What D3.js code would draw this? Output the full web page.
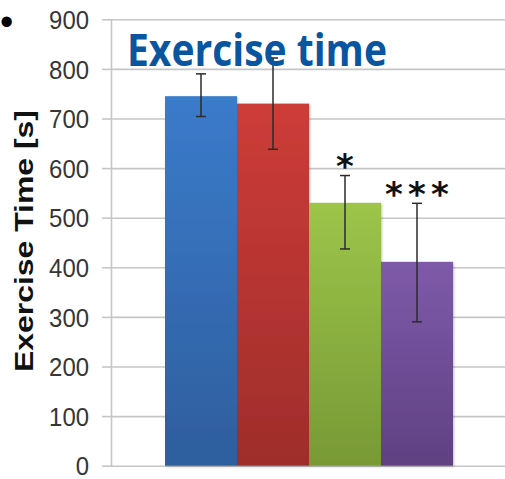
<!DOCTYPE html>
<html>
<head>
<meta charset="utf-8">
<script src="https://cdn.jsdelivr.net/npm/d3@7"></script>
<style>
  html, body { margin: 0; padding: 0; background: #fff; }
  svg { display: block; }
</style>
</head>
<body>
<svg id="chart" width="505" height="479"></svg>
<script>
// Exercise time per group (seconds), mean and error-bar bounds
const groups = ["Group A", "Group B", "Group C", "Group D"];
const meanTime = [745, 730, 530, 411];
const errLow = [704, 638, 437, 290];
const errHigh = [790, 822, 585, 529];
const significance = ["", "", "*", "***"];
const yTicks = [0, 100, 200, 300, 400, 500, 600, 700, 800, 900];
const colorsTop = ["#3b7bcb", "#cd3c38", "#9cc54a", "#7e5aa9"];
const colorsBottom = ["#2e5e9d", "#9e2d2b", "#789935", "#5f4182"];

const svg = d3.select("#chart");
const W = 505;
const axisX = 111;

const y = d3.scaleLinear().domain([0, 900]).range([465.7, 19.3]);
const x = d3.scaleBand().domain(groups).range([165, 453]).padding(0);

// gradients for bars
const defs = svg.append("defs");
groups.forEach((g, i) => {
  const lg = defs.append("linearGradient")
    .attr("id", "grad" + i).attr("x1", 0).attr("y1", 0).attr("x2", 0).attr("y2", 1);
  lg.append("stop").attr("offset", "0%").attr("stop-color", colorsTop[i]);
  lg.append("stop").attr("offset", "100%").attr("stop-color", colorsBottom[i]);
});
const shadow = defs.append("filter").attr("id", "shadow")
  .attr("x", "-10%").attr("y", "-10%").attr("width", "120%").attr("height", "120%");
shadow.append("feDropShadow").attr("dx", 1).attr("dy", 1).attr("stdDeviation", 1.2)
  .attr("flood-color", "#000").attr("flood-opacity", 0.25);

// horizontal gridlines
svg.append("g")
  .attr("transform", `translate(${axisX},0)`)
  .call(d3.axisLeft(y).tickValues(yTicks).tickSize(-(W - axisX)).tickFormat(""))
  .call(g => g.select(".domain").remove())
  .call(g => g.selectAll(".tick line").attr("stroke", "#c6c6c6").attr("stroke-width", 1.6));

// y axis with tick labels
const yAxis = svg.append("g")
  .attr("transform", `translate(${axisX},0)`)
  .call(d3.axisLeft(y).tickValues(yTicks).tickSize(9).tickPadding(13).tickSizeOuter(0))
  .call(g => g.select(".domain").attr("stroke", "#c6c6c6").attr("stroke-width", 1.6))
  .call(g => g.selectAll(".tick line").attr("stroke", "#c6c6c6").attr("stroke-width", 1.6));
yAxis.selectAll(".tick text")
  .attr("fill", "#363636")
  .style("font-family", "'Liberation Sans', Arial, sans-serif")
  .style("font-size", "26px")
  .attr("dy", "0.35em")
  .each(function () {
    const len = this.getComputedTextLength();
    d3.select(this).attr("textLength", len * 0.92).attr("lengthAdjust", "spacingAndGlyphs");
  });

// bars
svg.append("g").selectAll("rect")
  .data(groups)
  .join("rect")
  .attr("x", d => x(d))
  .attr("y", (d, i) => y(meanTime[i]))
  .attr("width", x.bandwidth())
  .attr("height", (d, i) => y(0) - y(meanTime[i]))
  .attr("fill", (d, i) => `url(#grad${i})`)
  .attr("filter", "url(#shadow)");

// error bars
const eb = svg.append("g").attr("stroke", "#2b2b2b").attr("stroke-width", 1.5);
groups.forEach((g, i) => {
  const cx = x(g) + x.bandwidth() / 2;
  eb.append("line").attr("x1", cx).attr("x2", cx).attr("y1", y(errHigh[i])).attr("y2", y(errLow[i]));
  eb.append("line").attr("x1", cx - 5).attr("x2", cx + 5).attr("y1", y(errHigh[i])).attr("y2", y(errHigh[i]));
  eb.append("line").attr("x1", cx - 5).attr("x2", cx + 5).attr("y1", y(errLow[i])).attr("y2", y(errLow[i]));
});

// significance markers
const sig = svg.append("g")
  .style("font-family", "'DejaVu Sans', sans-serif")
  .style("font-weight", "bold")
  .style("font-size", "34px")
  .attr("fill", "#111");
groups.forEach((g, i) => {
  const stars = significance[i];
  const cx = x(g) + x.bandwidth() / 2;
  const step = 23;
  for (let k = 0; k < stars.length; k++) {
    sig.append("text")
      .attr("x", cx + (k - (stars.length - 1) / 2) * step)
      .attr("y", y(errHigh[i]) + 2.5)
      .attr("text-anchor", "middle")
      .text(stars[k]);
  }
});

// title
svg.append("text")
  .attr("x", 127).attr("y", 66)
  .attr("fill", "#0a55a0")
  .style("font-family", "'Open Sans', Lato, sans-serif")
  .style("font-weight", "bold")
  .style("font-size", "44px")
  .attr("textLength", 260).attr("lengthAdjust", "spacingAndGlyphs")
  .text("Exercise time");

// y axis title
svg.append("text")
  .attr("transform", "translate(33,241) rotate(-90)")
  .attr("text-anchor", "middle")
  .attr("fill", "#111")
  .style("font-family", "'Liberation Sans', Arial, sans-serif")
  .style("font-weight", "bold")
  .style("font-size", "26px")
  .attr("textLength", 262).attr("lengthAdjust", "spacingAndGlyphs")
  .text("Exercise Time [s]");

// bullet
svg.append("text")
  .attr("x", 0).attr("y", 35)
  .attr("text-anchor", "start")
  .attr("fill", "#000")
  .style("font-family", "'Liberation Sans', Arial, sans-serif")
  .style("font-size", "38px")
  .text("•");
</script>
</body>
</html>
